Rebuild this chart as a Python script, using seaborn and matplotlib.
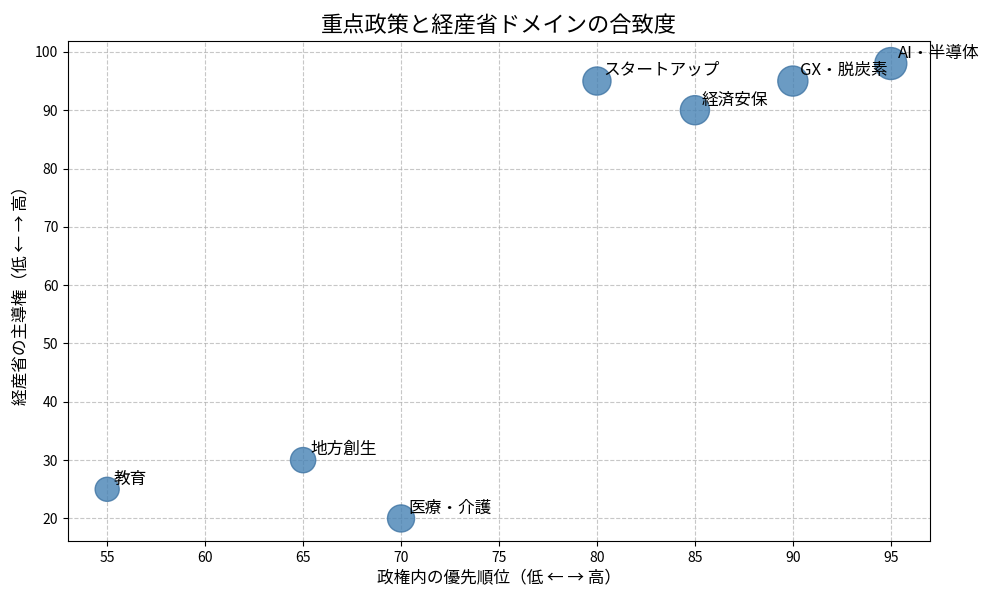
import matplotlib
matplotlib.use("Agg")
import matplotlib.pyplot as plt
import seaborn as sns
import pandas as pd

domains = ["AI・半導体", "GX・脱炭素", "経済安保", "スタートアップ", "医療・介護", "地方創生", "教育"]
priority = [95, 90, 85, 80, 70, 65, 55]
leadership = [98, 95, 90, 95, 20, 30, 25]
bubble = [530, 470, 440, 410, 380, 330, 300]

df = pd.DataFrame({"domain": domains, "priority": priority, "leadership": leadership, "bubble": bubble})

plt.rcParams['font.family'] = ['Noto Sans CJK JP', 'DejaVu Sans']

fig, ax = plt.subplots(figsize=(10, 6), dpi=100)
sns.scatterplot(data=df, x="priority", y="leadership", size="bubble",
                sizes={v: v for v in bubble}, color="steelblue", alpha=0.8,
                edgecolor="#3f74a3", linewidth=1, legend=False, ax=ax)

for d, xv, yv in zip(domains, priority, leadership):
    ax.text(xv + 0.35, yv + 1, d, fontsize=12)

ax.set_title("重点政策と経産省ドメインの合致度", fontsize=16)
ax.set_xlabel("政権内の優先順位（低 ← → 高）", fontsize=12)
ax.set_ylabel("経産省の主導権（低 ← → 高）", fontsize=12)
ax.grid(True, linestyle="--", alpha=0.7)
ax.set_axisbelow(True)

fig.subplots_adjust(left=0.068, right=0.93, top=0.932, bottom=0.098)
fig.savefig("out.png")
